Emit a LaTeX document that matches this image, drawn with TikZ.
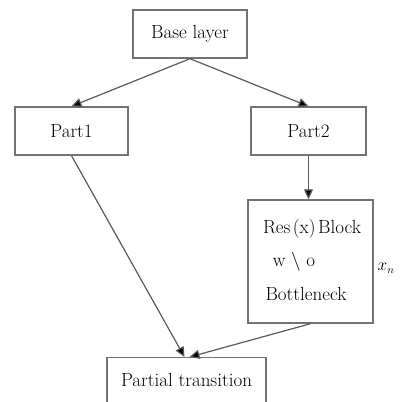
\documentclass[tikz,border=0pt]{standalone}
\usetikzlibrary{arrows.meta}
\begin{document}
\begin{tikzpicture}[x=1pt,y=-1pt,
  box/.style={draw=black!55,line width=1.4pt,fill=white,inner sep=0pt},
  lbl/.style={font=\fontsize{19}{22}\selectfont,inner sep=0pt},
  link/.style={draw=black!65,line width=1.2pt,-{Triangle[length=10pt,width=9pt,fill=black]}}]
\useasboundingbox (0,0) rectangle (406,401);
% boxes
\node[box,minimum width=114pt,minimum height=48pt] (base) at (190,34) {};
\node[lbl] at (base.center) {Base layer};
\node[box,minimum width=113pt,minimum height=48pt] (p1) at (71.5,131) {};
\node[lbl] at (p1.center) {Part1};
\node[box,minimum width=115pt,minimum height=48pt] (p2) at (308.5,131) {};
\node[lbl] at (p2.center) {Part2};
\node[box,minimum width=125pt,minimum height=123pt] (res) at (310.5,261.5) {};
\node[lbl] (t1) at (312,229) {Res\kern2.5pt(x)\kern2.5pt Block};
\node[lbl] (t2) at (294,262) {w \textbackslash{} o};
\node[lbl] (t3) at (306,294) {Bottleneck};
\node[box,minimum width=159pt,minimum height=52pt,anchor=north] (pt) at (186.5,357) {};
\node[lbl] at (186.5,380) {Partial transition};
\node[font=\fontsize{16}{18}\selectfont,inner sep=0pt] (xn) at (386,268) {$x_n$};
% connectors
\draw[link] (base.south) -- (p1.north);
\draw[link] (base.south) -- (p2.north);
\draw[link] (p2.south) -- (res.north -| p2.south);
\draw[link] (p1.south) -- ([xshift=-2pt]pt.north);
\draw[link] (res.south) -- ([xshift=3pt]pt.north);
\end{tikzpicture}
\end{document}
